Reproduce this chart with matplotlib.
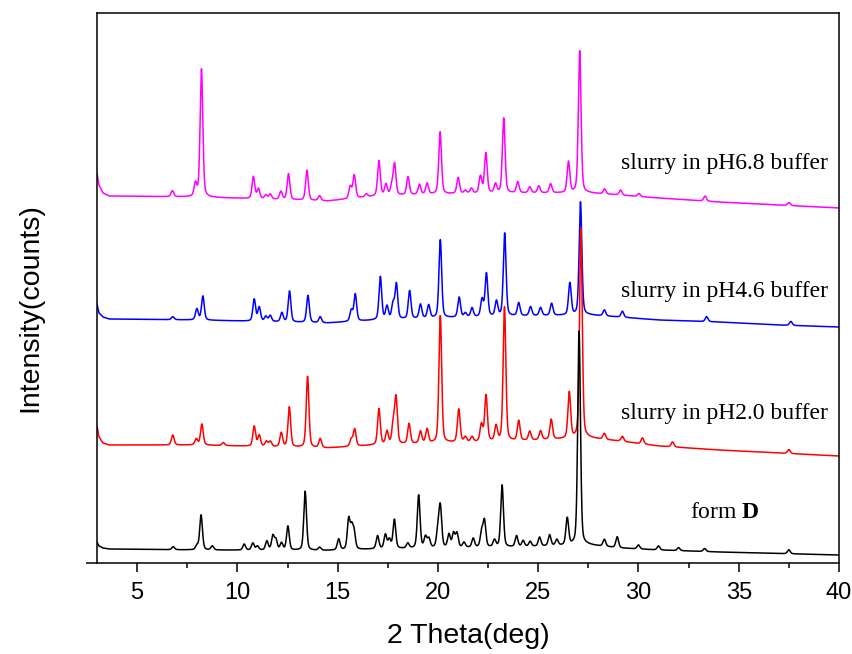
import numpy as np
import matplotlib
matplotlib.use("Agg")
import matplotlib.pyplot as plt

plt.rcParams['mathtext.fontset'] = 'custom'
plt.rcParams['mathtext.rm'] = 'Liberation Serif'
plt.rcParams['mathtext.bf'] = 'Liberation Serif:bold'

# ---------------- data ----------------
# 2-theta grid of the measurement
theta_start, theta_stop, theta_step = 3.0, 40.0, 0.01

# background levels (arbitrary intensity units incl. stacking offset)
bg_theta = [3.0, 3.1, 3.3, 3.6, 8.0, 14.5, 17.0, 20.0, 24.0, 27.5, 29.0, 31.0, 34.0, 37.0, 40.0]
bg_ph68 = [390, 378, 370, 367, 366, 362, 367, 369, 370, 370, 368, 365, 361, 358, 355]
bg_ph46 = [259, 250, 246, 244, 243, 240, 243, 245, 247, 248, 246, 243, 241, 238, 236]
bg_ph20 = [137, 126, 120, 118, 118, 115, 118, 120, 122, 125, 122, 117, 113, 110, 107]
bg_formD = [21, 17, 15, 14, 13, 12.5, 14, 15, 16, 18, 15, 13, 11, 9.5, 8]

# peak positions (deg) and heights above background
pk_pos_ph68 = [6.76, 7.91, 8.21, 10.80, 11.05, 11.42, 11.64, 12.17, 12.55, 13.47, 14.10, 15.63, 15.83,
               16.43, 17.06, 17.41, 17.70, 17.84, 18.51, 19.08, 19.46, 20.11, 21.01, 21.37, 21.67, 22.12,
               22.39, 22.87, 23.28, 23.98, 24.58, 25.03, 25.62, 26.51, 27.07, 28.31, 29.11, 30.02, 33.32, 37.51]
pk_h_ph68 = [6, 13, 128, 22, 10, 4, 5, 8, 26, 30, 5, 12, 23,
             3, 35, 11, 9, 31, 18, 10, 11, 62, 16, 3, 5, 17,
             40, 9, 75, 11, 6, 7, 9, 31, 142, 5, 5, 3, 5, 3]

pk_pos_ph46 = [6.78, 7.98, 8.28, 10.84, 11.09, 11.42, 11.64, 12.22, 12.60, 13.52, 14.13, 15.68, 15.88,
               17.13, 17.46, 17.76, 17.93, 18.59, 19.13, 19.54, 20.12, 21.06, 21.37, 21.70, 22.20, 22.42,
               22.92, 23.33, 24.03, 24.62, 25.12, 25.67, 26.58, 27.11, 28.3, 29.2, 33.4, 37.6]
pk_h_ph46 = [3, 11, 24, 22, 14, 5, 6, 9, 31, 27, 6, 11, 27,
             43, 13, 15, 35, 28, 14, 13, 78, 20, 4, 9, 17, 43,
             15, 83, 13, 9, 8, 12, 32, 113, 6, 6, 5, 4]

pk_pos_ph20 = [6.78, 7.95, 8.23, 9.3, 10.84, 11.09, 11.45, 11.64, 12.19, 12.59, 13.50, 14.13, 15.68,
               15.85, 17.06, 17.46, 17.77, 17.91, 18.56, 19.13, 19.46, 20.12, 21.04, 21.37, 21.70, 22.17,
               22.40, 22.90, 23.32, 24.03, 24.58, 25.12, 25.65, 26.55, 27.13, 28.3, 29.2, 30.2, 31.7, 37.5]
pk_h_ph20 = [10, 6, 21, 3, 20, 11, 5, 5, 14, 40, 71, 9, 7,
             17, 36, 13, 19, 46, 20, 12, 14, 127, 33, 5, 5, 17,
             46, 15, 134, 20, 9, 9, 20, 46, 210, 6, 5, 6, 5, 4]

pk_pos_formD = [6.8, 7.98, 8.19, 8.75, 10.34, 10.77, 11.0, 11.47, 11.77, 11.92, 12.2, 12.52, 13.38,
                14.1, 15.05, 15.55, 15.70, 15.82, 16.99, 17.38, 17.58, 17.83, 18.5, 19.04, 19.38, 19.55,
                20.0, 20.12, 20.55, 20.78, 20.95, 21.3, 21.76, 22.18, 22.32, 22.82, 23.2, 23.92, 24.25,
                24.6, 25.07, 25.57, 25.93, 26.45, 27.04, 28.3, 28.94, 30.0, 31.0, 32.0, 33.3, 37.5]
pk_h_formD = [3, 4, 35, 4, 6, 7, 4, 9, 14, 10, 7, 24, 59,
              3, 11, 30, 20, 16, 13, 14, 9, 29, 5, 53, 11, 9,
              17, 40, 13, 14, 14, 5, 9, 15, 26, 7, 62, 11, 6,
              5, 9, 11, 6, 27, 214, 7, 11, 4, 4, 3, 3, 4]

labels = ["slurry in pH6.8 buffer", "slurry in pH4.6 buffer", "slurry in pH2.0 buffer", "form $\\mathbf{D}$"]
xticks = [5, 10, 15, 20, 25, 30, 35, 40]

# ---------------- build traces ----------------
x = np.arange(theta_start, theta_stop + theta_step / 2, theta_step)
fwhm, eta = 0.16, 0.35


def trace(bg_levels, pos, h):
    y = np.interp(x, bg_theta, bg_levels)
    for p0, a in zip(pos, h):
        d2 = 4 * (x - p0) ** 2 / fwhm ** 2
        y = y + a * (eta / (1 + d2) + (1 - eta) * np.exp(-np.log(2) * d2))
    return y


series = [
    (trace(bg_ph68, pk_pos_ph68, pk_h_ph68), '#ff00ff'),
    (trace(bg_ph46, pk_pos_ph46, pk_h_ph46), '#0000ff'),
    (trace(bg_ph20, pk_pos_ph20, pk_h_ph20), '#ff0000'),
    (trace(bg_formD, pk_pos_formD, pk_h_formD), '#000000'),
]

# ---------------- figure ----------------
W, H = 853, 654
fig = plt.figure(figsize=(W / 100, H / 100), dpi=100)
ax = fig.add_axes([97 / W, 1 - 563 / H, 742 / W, 550 / H])

for y, c in series:
    ax.plot(x, y, color=c, lw=1.1)

ax.set_xlim(3, 40)
ax.set_ylim(0, 550)
ax.set_xticks(xticks)
ax.set_xticks(np.arange(7.5, 40, 5), minor=True)
ax.set_yticks([])
for s in ax.spines.values():
    s.set_linewidth(1.1)
ax.tick_params(axis='x', which='major', direction='out', length=6.5, width=1.1,
               labelsize=17, pad=7)
ax.tick_params(axis='x', which='minor', direction='out', length=3.5, width=1.1)
for lab in ax.get_xticklabels():
    lab.set_family('Liberation Sans')

# small extension of the bottom axis line to the left
ax.plot([-11 / 742, 0], [0, 0], transform=ax.transAxes, color='black', lw=1.1,
        clip_on=False, solid_capstyle='butt')

ax.set_xlabel('2 Theta(deg)', family='Liberation Sans', fontsize=20.5)
ax.xaxis.set_label_coords(0.5, (563 - 636) / 550)
ax.xaxis.label.set_va('center')
ax.set_ylabel('Intensity(counts)', family='Liberation Sans', fontsize=20.5)
ax.yaxis.set_label_coords((30 - 97) / 742, (563 - 308) / 550)
ax.yaxis.label.set_va('center')

text_kw = dict(family='Liberation Serif', fontsize=17, va='center')
ax.text(39.45, 400, labels[0], ha='right', **text_kw)
ax.text(39.45, 271, labels[1], ha='right', **text_kw)
ax.text(39.45, 150, labels[2], ha='right', **text_kw)
ax.text(32.55, 50, labels[3], ha='left', **text_kw)

fig.savefig('out.png', dpi=100)
